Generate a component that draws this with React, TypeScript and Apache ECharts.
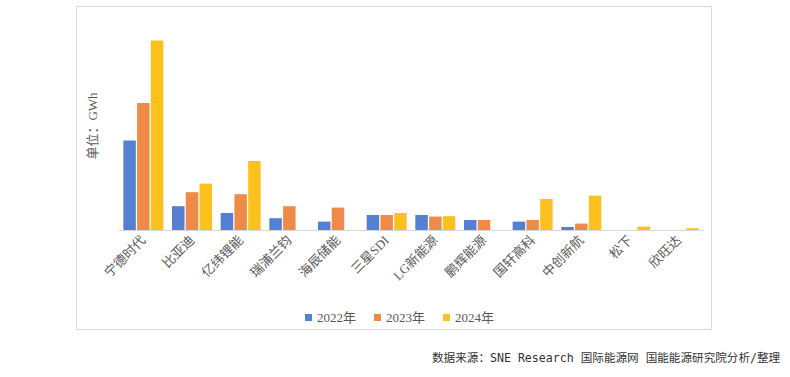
import React, { useEffect, useRef } from "react";
import * as echarts from "echarts";

const categories = ["宁德时代", "比亚迪", "亿纬锂能", "瑞浦兰钧", "海辰储能", "三星SDI", "LG新能源", "鹏辉能源", "国轩高科", "中创新航", "松下", "欣旺达"];
const seriesNames = ["2022年", "2023年", "2024年"];
const values2022 = [44.7, 11.9, 8.5, 5.9, 4.2, 7.5, 7.5, 5.0, 4.2, 1.5, 0, 0];
const values2023 = [63.5, 18.9, 17.9, 11.9, 11.2, 7.5, 6.7, 5.0, 5.0, 3.2, 0, 0];
const values2024 = [94.7, 23.2, 34.5, 0, 0, 8.5, 6.9, 0, 15.5, 17.2, 1.7, 0.9];
const colors = ["#5580D2", "#EF8B48", "#FDC11F"];
const yAxisName = "单位：GWh";
const sourceText = "数据来源：SNE Research 国际能源网 国能能源研究院分析/整理";

const serif = "'Liberation Serif', 'Noto Sans CJK SC', serif";

export default function App() {
  const ref = useRef<HTMLDivElement>(null);
  useEffect(() => {
    if (!ref.current) return;
    const chart = echarts.init(ref.current, undefined, { renderer: "svg" });
    const data = [values2022, values2023, values2024];
    chart.setOption({
      animation: false,
      backgroundColor: "#ffffff",
      grid: { left: 119, top: 30, width: 584, height: 200, containLabel: false },
      legend: {
        data: seriesNames,
        left: 300,
        top: 306,
        itemWidth: 7,
        itemHeight: 7,
        itemGap: 18,
        icon: "rect",
        textStyle: { color: "#595959", fontSize: 13, fontFamily: serif },
      },
      xAxis: {
        type: "category",
        data: categories,
        axisLine: { lineStyle: { color: "#d9d9d9", width: 1 } },
        axisTick: { show: false },
        axisLabel: { rotate: 45, color: "#595959", fontSize: 13, fontFamily: serif, margin: 8, interval: 0 },
      },
      yAxis: {
        type: "value",
        min: 0,
        max: 100,
        show: false,
        splitLine: { show: false },
      },
      series: seriesNames.map((name, i) => ({
        name,
        type: "bar",
        data: data[i],
        barWidth: 12.5,
        barGap: "10%",
        itemStyle: { color: colors[i] },
      })),
      graphic: [
        {
          type: "rect",
          shape: { x: 76.5, y: 6.5, width: 635, height: 323 },
          style: { fill: "none", stroke: "#d9d9d9", lineWidth: 1 },
          silent: true,
          z: -1,
        },
        {
          type: "text",
          x: 92,
          y: 126,
          rotation: Math.PI / 2,
          style: {
            text: yAxisName,
            fill: "#595959",
            font: `13px ${serif}`,
            textAlign: "center",
            textVerticalAlign: "middle",
          },
        },
        {
          type: "text",
          x: 432,
          y: 358,
          style: {
            text: sourceText,
            fill: "#333333",
            font: "11.6px 'DejaVu Sans Mono', 'Noto Sans CJK SC', monospace",
            textAlign: "left",
            textVerticalAlign: "middle",
          },
        },
      ],
    });
    return () => chart.dispose();
  }, []);
  return <div ref={ref} style={{ width: 790, height: 377, position: "absolute", left: 0, top: 0 }} />;
}
